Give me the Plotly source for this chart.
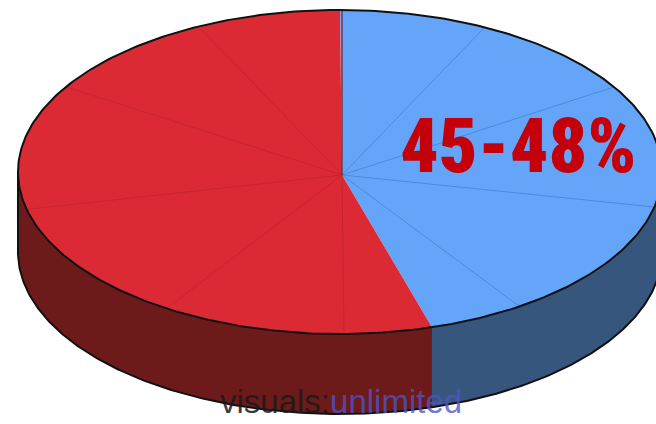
import numpy as np
import plotly.graph_objects as go

# Shares of the whole, clockwise from 12 o'clock: blue slice first, then red
slice_shares = [45.4, 54.6]
# Finer wedges inside each slice (percent of whole), clockwise
blue_segments = [7.2, 8.7, 12.3, 12.3, 4.9]
red_segments = [4.5, 9.4, 12.3, 12.4, 8.8, 7.2]
label_text = "45-48%"

top_colors = ["#64A5FA", "#DB2A34"]
side_colors = ["#37567E", "#6D1A1B"]
divider_colors = ["#4A89DE", "#C8252F"]

W, H = 656, 424
CX, CY = 340.0, 172.0      # centre of the top ellipse
RX, RY = 322.0, 162.0      # radii of the top ellipse
HX, HY = 342.0, 175.0      # point where the wedges meet
DEPTH = 80.0               # thickness of the disc


def rim_param(frac):
    """Parametric angle on the rim hit by the ray from the hub at a pie fraction."""
    th = 2 * np.pi * frac
    u0, v0 = (HX - CX) / RX, (HY - CY) / RY
    du, dv = np.sin(th), -np.cos(th)
    b = u0 * du + v0 * dv
    c = u0 ** 2 + v0 ** 2 - 1
    s = -b + np.sqrt(b * b - c)
    u, v = u0 + s * du, v0 + s * dv
    t = np.arctan2(u, -v)
    if t < 0:
        t += 2 * np.pi
    if frac >= 1 - 1e-9:
        t = 2 * np.pi
    return t


def arc(t1, t2, n=160, dy=0.0):
    t = np.linspace(t1, t2, n)
    return CX + RX * np.sin(t), CY - RY * np.cos(t) + dy


fig = go.Figure()
common = dict(hoverinfo="skip", showlegend=False)

# slice boundaries as cumulative fractions
bounds = np.concatenate([[0.0], np.cumsum(slice_shares) / 100.0])
params = [rim_param(f) for f in bounds]
params[0] = 0.0

# side walls (front half of the disc only)
for i in range(len(slice_shares)):
    a = max(params[i], np.pi / 2)
    b = min(params[i + 1], 3 * np.pi / 2)
    if b <= a:
        continue
    xt, yt = arc(a, b)
    xb, yb = arc(a, b, dy=DEPTH)
    xs = np.concatenate([xt, xb[::-1], xt[:1]])
    ys = np.concatenate([yt, yb[::-1], yt[:1]])
    fig.add_trace(go.Scatter(x=xs, y=ys, mode="lines", fill="toself",
                             fillcolor=side_colors[i], line=dict(width=0), **common))

# outline of the wall: bottom curve and the two vertical extremes
xb, yb = arc(np.pi / 2, 3 * np.pi / 2, n=300, dy=DEPTH)
fig.add_trace(go.Scatter(x=xb, y=yb, mode="lines",
                         line=dict(color="#111111", width=2), **common))
for tt in (np.pi / 2, 3 * np.pi / 2):
    x0 = CX + RX * np.sin(tt)
    fig.add_trace(go.Scatter(x=[x0, x0], y=[CY, CY + DEPTH], mode="lines",
                             line=dict(color="#111111", width=2), **common))

# top faces of the slices
for i in range(len(slice_shares)):
    xa, ya = arc(params[i], params[i + 1])
    xs = np.concatenate([[HX], xa, [HX]])
    ys = np.concatenate([[HY], ya, [HY]])
    fig.add_trace(go.Scatter(x=xs, y=ys, mode="lines", fill="toself",
                             fillcolor=top_colors[i], line=dict(width=0), **common))

# thin dividers between the finer wedges
for k, segs in enumerate([blue_segments, red_segments]):
    start = 0.0 if k == 0 else slice_shares[0]
    cum = start + np.cumsum(segs)[:-1]
    for f in cum:
        t = rim_param(f / 100.0)
        x1, y1 = CX + RX * np.sin(t), CY - RY * np.cos(t)
        fig.add_trace(go.Scatter(x=[HX, x1], y=[HY, y1], mode="lines",
                                 line=dict(color=divider_colors[k], width=1), **common))

# dark seam at 12 o'clock between the two slices
t0 = rim_param(0.0)
fig.add_trace(go.Scatter(x=[HX, CX + RX * np.sin(t0)], y=[HY, CY - RY * np.cos(t0)],
                         mode="lines", line=dict(color="#6B2230", width=1.2), **common))

# rim of the top face
xr, yr = arc(0, 2 * np.pi, n=400)
fig.add_trace(go.Scatter(x=xr, y=yr, mode="lines",
                         line=dict(color="#111111", width=2), **common))

fig.add_annotation(x=518, y=146, xref="x", yref="y", text=label_text,
                   showarrow=False, xanchor="center", yanchor="middle",
                   font=dict(family="Noto Sans ExtraCondensed, Noto Sans Condensed, "
                                    "Roboto Condensed, Liberation Sans Narrow, "
                                    "DejaVu Sans Condensed, sans-serif",
                             size=76, weight=900, color="#C4000A"))

fig.add_annotation(x=218, y=401, xref="x", yref="y",
                   text="<span style='color:rgba(25,25,25,0.85)'>visuals:</span>"
                        "<span style='color:rgba(75,85,200,0.8)'>unlimited</span>",
                   showarrow=False, xanchor="left", yanchor="middle",
                   font=dict(family="Liberation Sans, Arial, sans-serif", size=33))

fig.update_xaxes(range=[0, W], visible=False, fixedrange=True)
fig.update_yaxes(range=[H, 0], visible=False, fixedrange=True)
fig.update_layout(width=W, height=H, margin=dict(l=0, r=0, t=0, b=0),
                  paper_bgcolor="white", plot_bgcolor="white")

fig.write_html("out.html")
